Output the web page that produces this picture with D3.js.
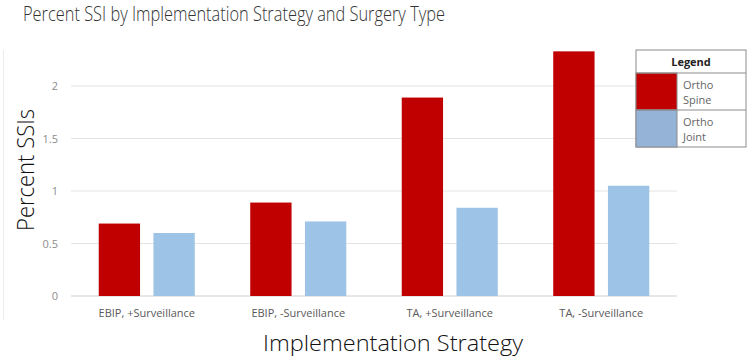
<!DOCTYPE html>
<html><head><meta charset="utf-8">
<script src="https://cdn.jsdelivr.net/npm/d3@7"></script>
<style>body{margin:0;background:#fff}svg{display:block}</style>
</head><body>
<svg id="chart" width="751" height="360"></svg>
<script>
const categories = ["EBIP, +Surveillance", "EBIP, -Surveillance", "TA, +Surveillance", "TA, -Surveillance"];
const seriesNames = ["Ortho Spine", "Ortho Joint"];
const orthoSpine = [0.69, 0.89, 1.89, 2.33];
const orthoJoint = [0.60, 0.71, 0.84, 1.05];
const yTicks = [0, 0.5, 1, 1.5, 2];
const yTickLabels = ["0", "0.5", "1", "1.5", "2"];

const barColors = ["#c00000", "#9dc3e6"];
const legendColors = ["#c00000", "#95b3d7"];
const font = "'Open Sans', Lato, sans-serif";

const svg = d3.select("#chart");
const plot = {left: 71, right: 677, top: 33.5, bottom: 296};

const x0 = d3.scaleBand().domain(categories).range([plot.left, plot.right]).paddingInner(0).paddingOuter(0);
const x1 = d3.scaleBand().domain(seriesNames).range([0, x0.bandwidth()]).paddingInner(0.245).paddingOuter(0.507);
const y = d3.scaleLinear().domain([0, 2.5]).range([plot.bottom, plot.top]);

// faint chart frame line at left
svg.append("line").attr("x1", 3.5).attr("x2", 3.5).attr("y1", 50).attr("y2", 320)
  .attr("stroke", "#ececec").attr("stroke-width", 1);

// gridlines
svg.append("g").selectAll("line").data(yTicks).join("line")
  .attr("x1", plot.left).attr("x2", plot.right)
  .attr("y1", d => y(d)).attr("y2", d => y(d))
  .attr("stroke", d => d === 0 ? "#d0d0d0" : "#e3e3e3").attr("stroke-width", 1.2);

// y axis labels
const yAxis = d3.axisLeft(y).tickValues(yTicks).tickSize(0).tickPadding(13)
  .tickFormat((d, i) => yTickLabels[i]);
const gy = svg.append("g").attr("transform", `translate(${plot.left},0)`).call(yAxis);
gy.select(".domain").remove();
gy.selectAll("text").attr("font-family", font).attr("font-size", 11).attr("fill", "#8c8c8c");

// x axis labels
const xAxis = d3.axisBottom(x0).tickSize(0).tickPadding(0);
const gx = svg.append("g").attr("transform", `translate(0,${plot.bottom})`).call(xAxis);
gx.select(".domain").remove();
gx.selectAll("text").attr("y", 21).attr("dy", null)
  .attr("font-family", "'Open Sans', sans-serif").attr("font-size", 11).attr("fill", "#595959");

// bars
const rows = categories.map((c, i) => ({cat: c, vals: [orthoSpine[i], orthoJoint[i]]}));
const groups = svg.append("g").selectAll("g").data(rows).join("g")
  .attr("transform", d => `translate(${x0(d.cat)},0)`);
groups.selectAll("rect").data(d => d.vals.map((v, j) => ({s: seriesNames[j], v, j}))).join("rect")
  .attr("x", d => x1(d.s)).attr("width", x1.bandwidth())
  .attr("y", d => y(d.v)).attr("height", d => y(0) - y(d.v))
  .attr("fill", d => barColors[d.j]);

// title
svg.append("text").attr("x", 23).attr("y", 21).attr("font-family", font).attr("font-weight", 300)
  .attr("font-size", 20).attr("fill", "#333").attr("textLength", 422).attr("lengthAdjust", "spacingAndGlyphs")
  .text("Percent SSI by Implementation Strategy and Surgery Type");

// y title
svg.append("text").attr("transform", "translate(34,170) rotate(-90)").attr("text-anchor", "middle")
  .attr("font-family", font).attr("font-weight", 300).attr("font-size", 23).attr("fill", "#111")
  .attr("textLength", 122).attr("lengthAdjust", "spacingAndGlyphs").text("Percent SSIs");

// x title
svg.append("text").attr("x", 393).attr("y", 351).attr("text-anchor", "middle")
  .attr("font-family", font).attr("font-weight", 300).attr("font-size", 22).attr("fill", "#111")
  .attr("textLength", 260).attr("lengthAdjust", "spacingAndGlyphs").text("Implementation Strategy");

// legend
const lg = svg.append("g");
const L = {x: 636, y: 50, w: 110, hh: 23, rh: 37, cw: 41};
lg.append("rect").attr("x", L.x).attr("y", L.y).attr("width", L.w).attr("height", L.hh + 2 * L.rh)
  .attr("fill", "#fff").attr("stroke", "#8c8c8c").attr("stroke-width", 1);
lg.append("text").attr("x", L.x + L.w / 2).attr("y", L.y + 16).attr("text-anchor", "middle")
  .attr("font-family", "'Open Sans', sans-serif").attr("font-weight", "bold").attr("font-size", 11)
  .attr("fill", "#222").text("Legend");
seriesNames.forEach((name, i) => {
  const ry = L.y + L.hh + i * L.rh;
  lg.append("rect").attr("x", L.x).attr("y", ry).attr("width", L.cw).attr("height", L.rh)
    .attr("fill", legendColors[i]).attr("stroke", "#8c8c8c").attr("stroke-width", 1);
  lg.append("line").attr("x1", L.x).attr("x2", L.x + L.w).attr("y1", ry).attr("y2", ry)
    .attr("stroke", "#8c8c8c");
  const parts = name.split(" ");
  parts.forEach((p, k) => {
    lg.append("text").attr("x", L.x + L.cw + 6).attr("y", ry + 16 + k * 15)
      .attr("font-family", font).attr("font-size", 11).attr("fill", "#666").text(p);
  });
});
</script>
</body></html>
